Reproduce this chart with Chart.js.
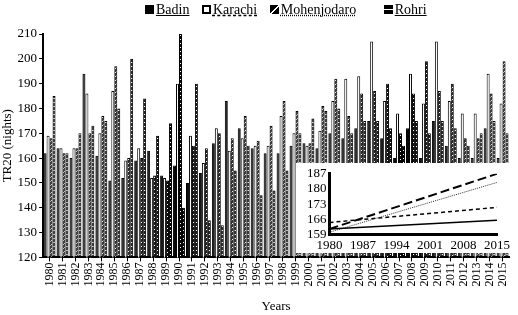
<!DOCTYPE html>
<html>
<head>
<meta charset="utf-8">
<script src="https://cdn.jsdelivr.net/npm/chart.js@4.4.0/dist/chart.umd.min.js"></script>
<style>
  html, body { margin: 0; padding: 0; background: #fff; }
  #wrap { position: relative; width: 518px; height: 315px; font-family: "Liberation Serif", serif; }
  #main { position: absolute; left: 0; top: 0; }
  #inset { position: absolute; left: 296px; top: 163px; background: #fff; }
  #legend { position: absolute; top: 2px; left: 145px; font-size: 14px; white-space: nowrap; color: #000; }
  #legend span.item { margin-right: 9px; }
  #legend span.item.wide { margin-right: 24px; }
  #legend i { display: inline-block; width: 9px; height: 9px; box-sizing: border-box; margin-right: 2px; vertical-align: 0px; }
  .u1 { text-decoration: underline solid; }
  .u2 { text-decoration: underline dashed; }
  .u3 { text-decoration: underline dotted; }
</style>
</head>
<body>
<div id="wrap">
  <canvas id="main" width="518" height="315"></canvas>
  <canvas id="inset" width="221" height="90"></canvas>
  <div id="legend">
    <span class="item"><i style="background:#000"></i><span class="u1">Badin</span></span>
    <span class="item"><i style="border:2px solid #000;background:#fff"></i><span class="u2">Karachi</span></span>
    <span class="item wide"><i style="background:linear-gradient(135deg,#000 45%,#fff 45%,#fff 58%,#000 58%)"></i><span class="u3">Mohenjodaro</span></span>
    <span class="item"><i style="background:linear-gradient(#000 40%,#fff 40%,#fff 60%,#000 60%)"></i><span class="u1">Rohri</span></span>
  </div>
</div>
<script>
// Years on the x axis
const years = [];
for (let y = 1980; y <= 2015; y++) years.push(String(y));

// TR20 nights per station
const badin = [162, 164, 160, 194, 161, 151, 152, 159, 163, 153, 157, 150, 154, 166, 183, 172, 164, 162,
  162, 165, 166, 164, 170, 168, 172, 175, 168, 160, 172, 160, 175, 165, 160, 160, 172, 160];
const karachi = [169, 164, 164, 186, 170, 187, 159, 164, 152, 152, 190, 169, 158, 172, 163, 168, 165, 165,
  177, 170, 165, 171, 183, 192, 193, 207, 183, 178, 194, 182, 207, 183, 178, 178, 194, 182];
const mohenjodaro = [168, 162, 164, 170, 177, 197, 160, 160, 153, 151, 210, 165, 164, 170, 168, 177, 167, 173,
  183, 179, 166, 181, 192, 177, 186, 187, 190, 170, 186, 199, 187, 190, 168, 168, 186, 199];
const rohri = [185, 162, 170, 173, 175, 180, 200, 184, 169, 174, 140, 190, 135, 133, 155, 165, 145, 147,
  155, 170, 176, 179, 180, 170, 175, 175, 172, 165, 175, 170, 175, 172, 165, 170, 175, 170];

// Inset: linear trend, value in 1980 and in 2015
const trendYears = [1980, 2015];
const badinTrend = [161.5, 165.5];
const karachiTrend = [161.5, 187];
const mohenjodaroTrend = [160, 183];
const rohriTrend = [164.5, 171.5];

const serif = 'Liberation Serif';

function makePattern(kind) {
  const c = document.createElement('canvas');
  c.width = 4; c.height = 4;
  const g = c.getContext('2d');
  g.fillStyle = '#000';
  g.fillRect(0, 0, 4, 4);
  g.fillStyle = '#fff';
  if (kind === 'diag') {
    g.fillRect(0, 3, 1, 1); g.fillRect(1, 2, 1, 1); g.fillRect(2, 1, 1, 1); g.fillRect(3, 0, 1, 1);
  } else {
    g.fillRect(0, 2, 4, 1);
  }
  return g.createPattern(c, 'repeat');
}

const barCommon = { borderColor: '#000', borderWidth: 1, categoryPercentage: 0.92, barPercentage: 1.0 };

new Chart(document.getElementById('main'), {
  type: 'bar',
  data: {
    labels: years,
    datasets: [
      { label: 'Badin', data: badin, backgroundColor: '#000', ...barCommon },
      { label: 'Karachi', data: karachi, backgroundColor: '#fff', ...barCommon },
      { label: 'Mohenjodaro', data: mohenjodaro, backgroundColor: makePattern('diag'), ...barCommon },
      { label: 'Rohri', data: rohri, backgroundColor: makePattern('horiz'), ...barCommon }
    ]
  },
  options: {
    responsive: false,
    animation: false,
    devicePixelRatio: 1,
    layout: { padding: { top: 34, right: 2, left: 0, bottom: 0 } },
    plugins: { legend: { display: false }, tooltip: { enabled: false } },
    scales: {
      x: {
        grid: { display: true, drawOnChartArea: false, color: '#000', tickLength: 4, offset: false },
        border: { color: '#000', width: 2 },
        ticks: { color: '#000', font: { family: serif, size: 12 }, minRotation: 90, maxRotation: 90, autoSkip: false, padding: 1 },
        title: { display: true, text: 'Years', color: '#000', font: { family: serif, size: 13 }, padding: { top: 11, bottom: 1 } }
      },
      y: {
        min: 120, max: 210,
        grid: { display: true, drawOnChartArea: false, color: '#000', tickLength: 4 },
        border: { color: '#000', width: 2 },
        ticks: { stepSize: 10, color: '#000', font: { family: serif, size: 13 }, padding: 2 },
        title: { display: true, text: 'TR20 (nights)', color: '#000', font: { family: serif, size: 13 }, padding: 0 }
      }
    }
  }
});

function trend(values) {
  return trendYears.map((x, i) => ({ x: x, y: values[i] }));
}

new Chart(document.getElementById('inset'), {
  type: 'line',
  data: {
    datasets: [
      { label: 'Badin', data: trend(badinTrend), borderColor: '#000', borderWidth: 1.5, pointRadius: 0 },
      { label: 'Karachi', data: trend(karachiTrend), borderColor: '#000', borderWidth: 2, borderDash: [9, 4], pointRadius: 0 },
      { label: 'Mohenjodaro', data: trend(mohenjodaroTrend), borderColor: '#333', borderWidth: 1, borderDash: [1, 1], pointRadius: 0 },
      { label: 'Rohri', data: trend(rohriTrend), borderColor: '#000', borderWidth: 1.5, borderDash: [4, 3], pointRadius: 0 }
    ]
  },
  options: {
    responsive: false,
    animation: false,
    devicePixelRatio: 1,
    layout: { padding: { top: 4, right: 20, left: 8, bottom: -3 } },
    plugins: { legend: { display: false }, tooltip: { enabled: false } },
    scales: {
      x: {
        type: 'linear', min: 1980, max: 2015,
        grid: { display: false, drawTicks: false },
        border: { color: '#000', width: 3, dash: [7, 2, 2, 2] },
        ticks: { stepSize: 7, color: '#000', font: { family: serif, size: 13 }, padding: 3, callback: v => String(v) }
      },
      y: {
        min: 159, max: 187,
        grid: { display: false, drawTicks: false },
        border: { color: '#000', width: 3, dash: [9, 2] },
        ticks: { stepSize: 7, autoSkip: false, color: '#000', font: { family: serif, size: 13 }, padding: 3 }
      }
    }
  }
});
</script>
</body>
</html>
